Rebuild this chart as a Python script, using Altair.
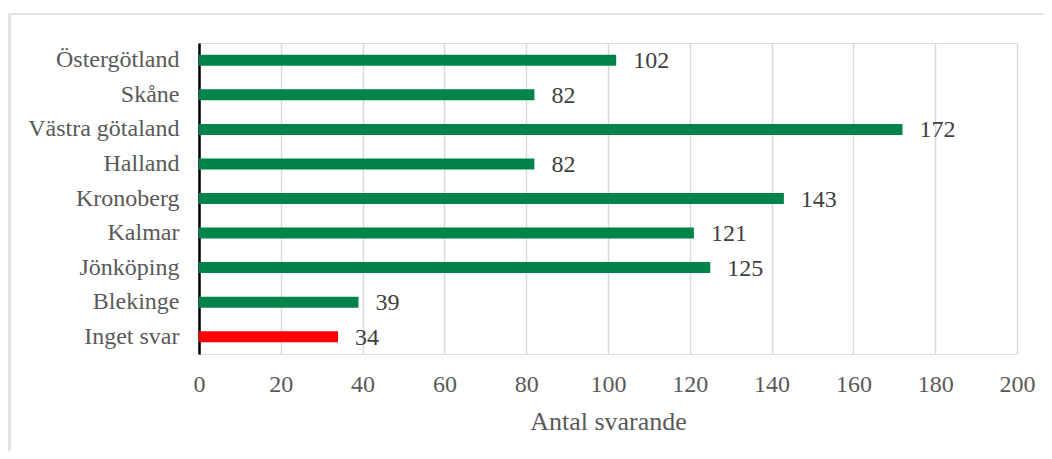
import altair as alt
import pandas as pd

regions = ["Östergötland", "Skåne", "Västra götaland", "Halland", "Kronoberg",
           "Kalmar", "Jönköping", "Blekinge", "Inget svar"]
counts = [102, 82, 172, 82, 143, 121, 125, 39, 34]
colors = ["#00844a"] * 8 + ["#ff0000"]

df = pd.DataFrame({"region": regions, "count": counts, "color": colors})

FONT = "Liberation Serif"

y_enc = alt.Y("region:N", sort=regions, title=None,
              scale=alt.Scale(paddingInner=0, paddingOuter=0),
              axis=alt.Axis(domain=True, domainColor="#000000", domainWidth=2.5,
                            ticks=False, labelFont=FONT, labelFontSize=24,
                            labelColor="#595959", labelPadding=20, grid=False))
x_enc = alt.X("count:Q", title="Antal svarande",
              scale=alt.Scale(domain=[0, 200], nice=False),
              axis=alt.Axis(values=list(range(0, 201, 20)), domain=False, ticks=False,
                            grid=True, gridColor="#d9d9d9", gridWidth=1.5,
                            labelFlush=False, labelOverlap=False,
                            labelFont=FONT, labelFontSize=24, labelColor="#595959",
                            labelBaseline="alphabetic", labelPadding=37,
                            titleFont=FONT, titleFontSize=26, titleFontWeight="normal",
                            titleColor="#595959", titleBaseline="alphabetic", titleY=75))

bars = alt.Chart(df).mark_bar(size=11).encode(
    x=x_enc, y=y_enc,
    color=alt.Color("color:N", scale=None),
)

labels = alt.Chart(df).mark_text(align="left", baseline="middle", dx=17, dy=1,
                                 font=FONT, fontSize=24, color="#404040").encode(
    x="count:Q", y=alt.Y("region:N", sort=regions), text="count:Q"
)

frame_top = alt.Chart(df).mark_rule(color="#e3e3e3", strokeWidth=2).encode(
    x=alt.value(-190), x2=alt.value(845), y=alt.value(-29)
)
frame_left = alt.Chart(df).mark_rule(color="#e3e3e3", strokeWidth=2).encode(
    x=alt.value(-189.5), y=alt.value(-29), y2=alt.value(408)
)

chart = alt.layer(frame_top, frame_left, bars, labels).properties(
    width=818, height=311,
    autosize=alt.AutoSizeParams(type="none"),
    padding={"left": 191, "top": 35, "right": 27, "bottom": 97},
).configure_view(stroke=None).configure(background="#ffffff")

chart.save("out.html", embed_options={"renderer": "svg", "actions": False})
